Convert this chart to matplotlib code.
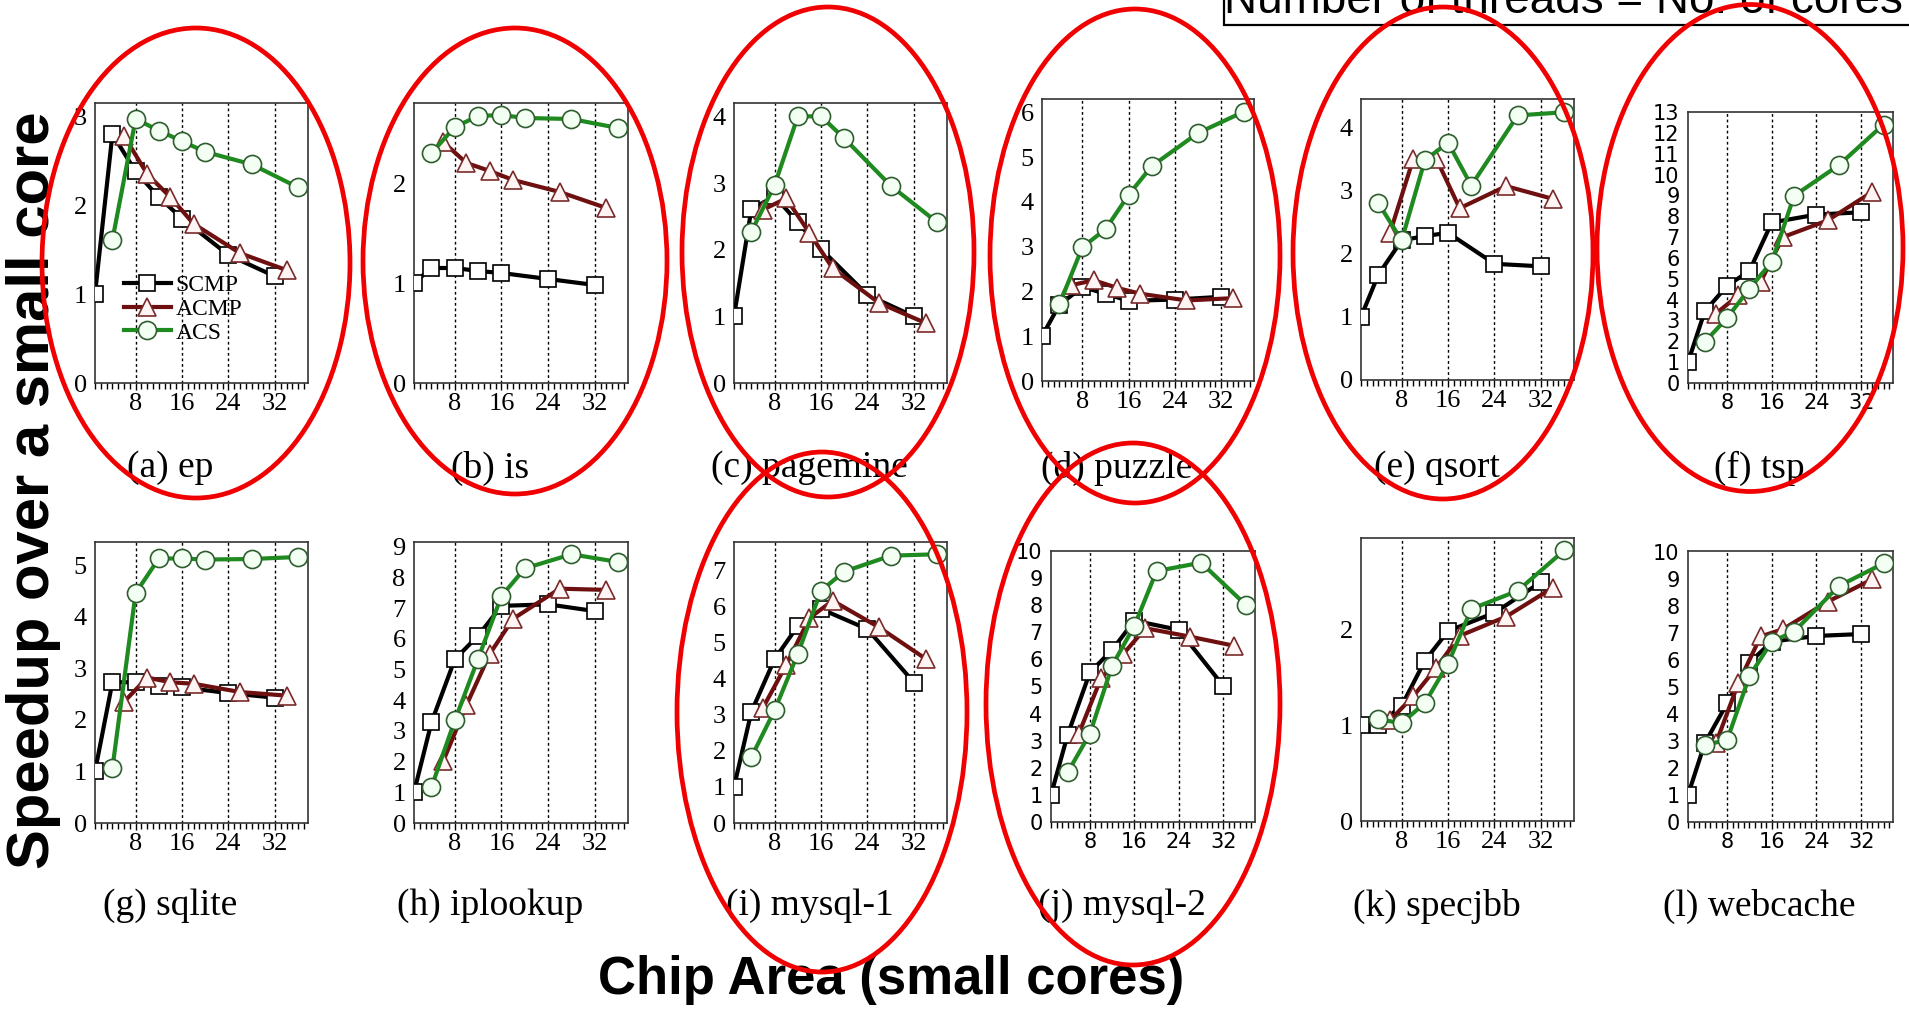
import matplotlib
matplotlib.use('Agg')
import matplotlib.pyplot as plt
from matplotlib.patches import Ellipse, Rectangle
from matplotlib.ticker import MultipleLocator

# x positions (chip area in small cores) of the three configurations
x_scmp = [1, 4, 8, 12, 16, 24, 32]
x_acmp = [6, 10, 14, 18, 26, 34]
x_acs = [4, 8, 12, 16, 20, 28, 36]

benchmarks = ['ep', 'is', 'pagemine', 'puzzle', 'qsort', 'tsp',
              'sqlite', 'iplookup', 'mysql-1', 'mysql-2', 'specjbb', 'webcache']
letters = ['a', 'b', 'c', 'd', 'e', 'f', 'g', 'h', 'i', 'j', 'k', 'l']

scmp = {
    'ep':       [1.0, 2.80, 2.38, 2.09, 1.85, 1.44, 1.20],
    'is':       [1.0, 1.15, 1.15, 1.12, 1.10, 1.04, 0.98],
    'pagemine': [1.0, 2.61, 2.80, 2.41, 2.01, 1.32, 1.00],
    'puzzle':   [1.0, 1.70, 2.10, 1.95, 1.79, 1.82, 1.88],
    'qsort':    [1.0, 1.67, 2.21, 2.28, 2.33, 1.84, 1.80],
    'tsp':      [1.0, 3.44, 4.66, 5.38, 7.70, 8.08, 8.19],
    'sqlite':   [1.0, 2.73, 2.73, 2.65, 2.63, 2.52, 2.43],
    'iplookup': [1.0, 3.28, 5.33, 6.10, 7.07, 7.12, 6.90],
    'mysql-1':  [1.0, 3.09, 4.55, 5.47, 5.94, 5.38, 3.90],
    'mysql-2':  [1.0, 3.22, 5.52, 6.35, 7.43, 7.09, 5.02],
    'specjbb':  [1.0, 1.00, 1.20, 1.67, 1.98, 2.17, 2.49],
    'webcache': [1.0, 2.92, 4.40, 5.91, 6.69, 6.90, 6.97],
}
acmp = {
    'ep':       [2.78, 2.35, 2.09, 1.79, 1.46, 1.27],
    'is':       [2.41, 2.20, 2.12, 2.03, 1.91, 1.75],
    'pagemine': [2.60, 2.77, 2.25, 1.72, 1.20, 0.90],
    'puzzle':   [2.14, 2.25, 2.08, 1.95, 1.80, 1.85],
    'qsort':    [2.33, 3.50, 3.50, 2.72, 3.07, 2.87],
    'tsp':      [3.33, 4.20, 4.85, 7.00, 7.80, 9.17],
    'sqlite':   [2.35, 2.82, 2.73, 2.70, 2.54, 2.47],
    'iplookup': [2.01, 3.84, 5.51, 6.65, 7.63, 7.59],
    'mysql-1':  [3.20, 4.39, 5.69, 6.17, 5.43, 4.56],
    'mysql-2':  [3.26, 5.30, 6.20, 7.15, 6.84, 6.50],
    'specjbb':  [1.05, 1.30, 1.60, 1.93, 2.13, 2.43],
    'webcache': [2.92, 5.14, 6.88, 7.15, 8.17, 9.00],
}
acs = {
    'ep':       [1.61, 2.97, 2.84, 2.72, 2.60, 2.46, 2.20],
    'is':       [2.30, 2.56, 2.67, 2.68, 2.65, 2.64, 2.55],
    'pagemine': [2.27, 2.97, 4.00, 4.00, 3.67, 2.96, 2.41],
    'puzzle':   [1.71, 2.99, 3.39, 4.16, 4.80, 5.54, 6.02],
    'qsort':    [2.80, 2.21, 3.48, 3.76, 3.08, 4.19, 4.24],
    'tsp':      [1.97, 3.12, 4.53, 5.81, 8.98, 10.45, 12.40],
    'sqlite':   [1.06, 4.46, 5.13, 5.13, 5.11, 5.12, 5.16],
    'iplookup': [1.17, 3.34, 5.35, 7.39, 8.29, 8.75, 8.50],
    'mysql-1':  [1.83, 3.13, 4.70, 6.45, 6.98, 7.42, 7.46],
    'mysql-2':  [1.83, 3.26, 5.77, 7.24, 9.26, 9.57, 8.02],
    'specjbb':  [1.06, 1.02, 1.23, 1.64, 2.21, 2.40, 2.82],
    'webcache': [2.86, 3.04, 5.41, 6.69, 7.06, 8.75, 9.59],
}
y_max = [3, 2, 4, 6, 4, 13, 5, 9, 7, 10, 2, 10]
y_top = [3.15, 2.8, 4.2, 6.3, 4.45, 13, 5.45, 9.15, 7.8, 10.0, 2.95, 10.05]
circled = ['ep', 'is', 'pagemine', 'puzzle', 'qsort', 'tsp', 'mysql-1', 'mysql-2']

# ---------------- layout (pixels of the 1909x1014 canvas) ----------------
W, H = 1909, 1014
rects = {  # left, top, right, bottom
    'ep': (95, 103, 308, 383), 'is': (414, 103, 628, 383),
    'pagemine': (734, 103, 947, 383), 'puzzle': (1042, 99, 1254, 381),
    'qsort': (1361, 99, 1574, 380), 'tsp': (1688, 112, 1893, 383),
    'sqlite': (95, 542, 308, 823), 'iplookup': (414, 542, 628, 823),
    'mysql-1': (734, 542, 947, 823), 'mysql-2': (1051, 551, 1255, 822),
    'specjbb': (1361, 538, 1574, 821), 'webcache': (1688, 551, 1893, 822),
}
ellipses = {  # cx, cy, width, height
    'ep': (196, 263, 308, 470), 'is': (515, 261, 304, 466),
    'pagemine': (828, 252, 292, 490), 'puzzle': (1135, 256, 290, 494),
    'qsort': (1443, 253, 300, 492), 'tsp': (1750, 248, 306, 487),
    'mysql-1': (822, 712, 290, 520), 'mysql-2': (1133, 704, 294, 522),
}
sans_ticks = ['tsp', 'mysql-2', 'webcache']

c_scmp, c_acmp, c_acs = 'black', '#6e1010', '#1f8a1f'
serif = 'Liberation Serif'

fig = plt.figure(figsize=(W / 100, H / 100), dpi=100)

for i, name in enumerate(benchmarks):
    l, t, r, b = rects[name]
    ax = fig.add_axes([l / W, 1 - b / H, (r - l) / W, (b - t) / H])
    ax.plot(x_scmp, scmp[name], color=c_scmp, lw=3, marker='s', ms=11,
            mfc='white', mec='black', mew=1.2, label='SCMP', zorder=3)
    ax.plot(x_acmp, acmp[name], color=c_acmp, lw=3, marker='^', ms=13,
            mfc='#fff4f4', mec='#7a2a2a', mew=1.2, label='ACMP', zorder=4)
    ax.plot(x_acs, acs[name], color=c_acs, lw=3, marker='o', ms=13,
            mfc='#f4fff4', mec='#2e5e2e', mew=1.2, label='ACS', zorder=5)
    for xv in [8, 16, 24, 32]:
        ax.axvline(xv, color='black', lw=1.0, ls=(0, (2, 2)), zorder=1)
    ax.set_xlim(1, 37.7)
    ax.set_ylim(0, y_top[i])
    ax.set_xticks([8, 16, 24, 32])
    ax.xaxis.set_minor_locator(MultipleLocator(1))
    ax.set_yticks(range(0, y_max[i] + 1))
    fam = 'DejaVu Sans' if name in sans_ticks else serif
    fs = 15 if name in sans_ticks else 19
    for lab in ax.get_xticklabels() + ax.get_yticklabels():
        lab.set_family(fam)
        lab.set_fontsize(fs)
    ax.tick_params(axis='x', which='major', direction='out', length=5, width=1, pad=2)
    ax.tick_params(axis='x', which='minor', direction='out', length=4, width=1)
    ax.tick_params(axis='y', length=0, pad=6)
    for sp in ax.spines.values():
        sp.set_color('#333333')
        sp.set_linewidth(1.2)
    if name == 'ep':
        ax.legend(loc='upper left', bbox_to_anchor=(0.08, 0.43), frameon=False,
                  prop={'family': serif, 'size': 17}, handlelength=2.0,
                  handletextpad=0.2, labelspacing=0.1, borderpad=0)

# overlay for labels, box and red ellipses
ov = fig.add_axes([0, 0, 1, 1], zorder=10)
ov.set_xlim(0, W)
ov.set_ylim(H, 0)
ov.axis('off')
ov.patch.set_alpha(0)

for i, name in enumerate(benchmarks):
    l, t, r, b = rects[name]
    ty = 468 if i < 6 else 906
    ov.text((l + r) / 2 - 31, ty, f'({letters[i]}) {name}', family=serif,
            fontsize=27, ha='center', va='center', zorder=1)

for name in circled:
    cx, cy, ew, eh = ellipses[name]
    ov.add_patch(Ellipse((cx, cy), ew, eh, fill=False, edgecolor='#f00000',
                         lw=3.4, zorder=5))

ov.add_patch(Rectangle((1224, -20), 720, 45, fill=False, edgecolor='black',
                       lw=1.6, zorder=2))
ov.text(1563, 13, 'Number of threads = No. of cores', family='Liberation Sans',
        fontsize=33, ha='center', va='baseline', zorder=2)

ov.text(34, 490, 'Speedup over a small core', rotation=90, family='Liberation Sans',
        fontweight='bold', fontsize=43, ha='center', va='center')
ov.text(891, 980, 'Chip Area (small cores)', family='Liberation Sans',
        fontweight='bold', fontsize=38, ha='center', va='center')

fig.savefig('out.png', dpi=100)
